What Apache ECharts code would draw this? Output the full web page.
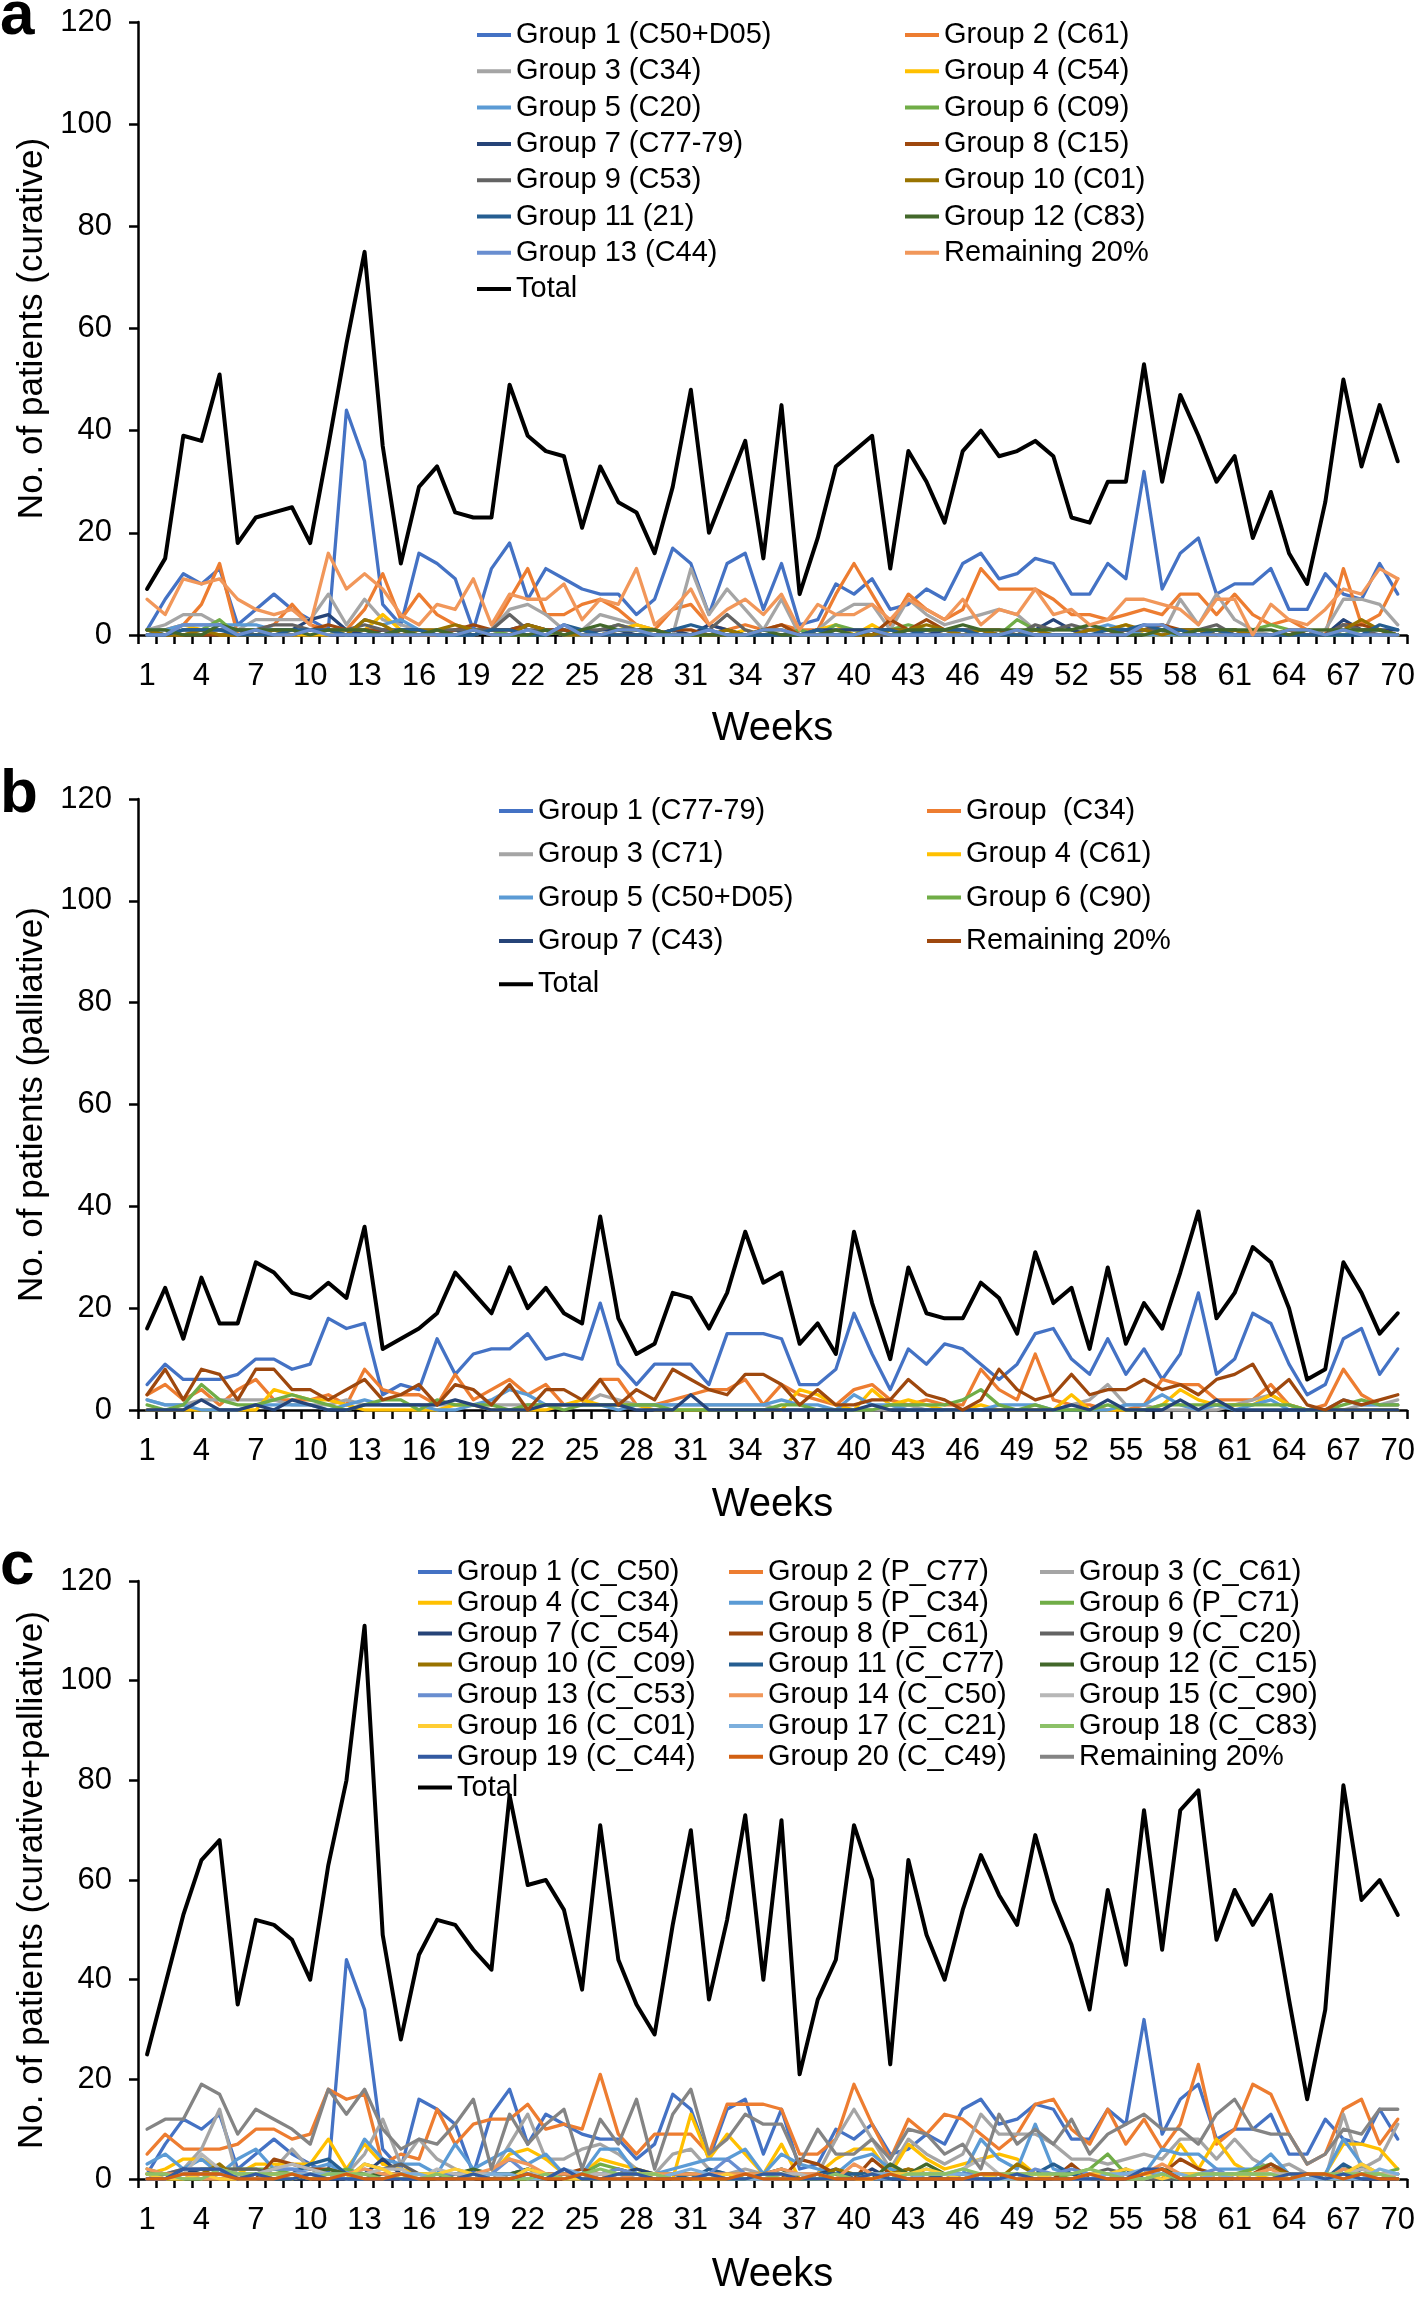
<!DOCTYPE html>
<html>
<head>
<meta charset="utf-8">
<script src="https://cdn.jsdelivr.net/npm/echarts@6/dist/echarts.min.js"></script>
<style>
  html, body { margin: 0; padding: 0; background: #fff; }
  .panel { position: absolute; left: 0; width: 1418px; }
</style>
</head>
<body>
<div id="pa" class="panel" style="top:0px;height:760px;"></div>
<div id="pb" class="panel" style="top:760px;height:770px;"></div>
<div id="pc" class="panel" style="top:1530px;height:770px;"></div>
<script>
// ---------- categories ----------
const weeks = ['1','2','3','4','5','6','7','8','9','10','11','12','13','14','15','16','17','18','19','20',
  '21','22','23','24','25','26','27','28','29','30','31','32','33','34','35','36','37','38','39','40',
  '41','42','43','44','45','46','47','48','49','50','51','52','53','54','55','56','57','58','59','60',
  '61','62','63','64','65','66','67','68','69','70'];
const yTicks = [0, 20, 40, 60, 80, 100, 120];

// ---------- panel a (curative) ----------
const aTotal = [9,15,39,38,51,18,23,24,25,18, 37,57,75,37,14,29,33,24,23,23, 49,39,36,35,21,33,26,24,16,29, 48,20,29,38,15,45,8,19,33,36, 39,13,36,30,22,36,40,35,36,38, 35,23,22,30,30,53,30,47,39,30, 35,19,28,16,10,26,50,33,45,34];
const aG1 = [1,7,12,10,13,2,5,8,5,3, 1,44,34,6,2,16,14,11,1,13, 18,7,13,11,9,8,8,4,7,17, 14,4,14,16,5,14,2,3,10,8, 11,5,6,9,7,14,16,11,12,15, 14,8,8,14,11,32,9,16,19,8, 10,10,13,5,5,12,8,7,14,8];
const aG2 = [1,1,2,6,14,0,1,2,6,2, 1,1,5,12,3,8,4,2,1,1, 7,13,4,4,6,7,5,2,1,5, 6,2,1,2,1,2,1,1,8,14, 8,2,8,5,3,5,13,9,9,9, 7,4,4,3,4,5,4,8,8,4, 8,4,2,3,1,0,13,2,4,11];
const aG3 = [1,2,4,4,2,1,3,3,3,3, 8,2,7,3,2,1,1,1,1,1, 5,6,4,1,1,4,3,2,1,0, 13,4,9,5,1,7,0,1,4,6, 6,1,7,4,2,3,4,5,4,1, 1,1,1,1,1,0,0,7,2,8, 3,1,0,1,0,1,7,7,6,2];
const aG4 = [0,0,2,1,0,0,0,0,0,0, 0,1,1,4,1,0,0,1,0,1, 0,0,1,0,0,0,1,2,1,0, 0,0,0,1,0,0,0,1,2,0, 2,0,1,1,0,0,0,0,1,0, 0,0,1,1,2,0,0,0,0,0, 0,0,0,1,0,0,1,0,0,0];
const aG5 = [1,1,2,2,2,2,2,1,1,1, 1,0,3,2,3,1,0,0,0,1, 0,0,1,0,0,0,0,0,0,0, 0,0,0,0,0,0,0,0,0,0, 0,0,0,0,0,0,0,0,0,0, 0,0,1,2,1,0,0,0,1,0, 0,0,0,0,0,0,0,0,0,0];
const aG6 = [1,0,0,1,3,0,1,0,0,1, 1,0,1,0,1,1,0,0,1,1, 0,0,0,1,0,1,2,1,0,0, 0,0,1,0,0,0,1,0,2,1, 1,1,2,1,1,0,1,0,3,1, 0,0,0,0,1,1,2,0,0,1, 0,1,2,1,0,0,0,1,1,0];
const aG7 = [1,0,1,1,1,1,0,1,1,3, 4,1,0,1,1,1,0,1,0,1, 1,2,1,1,0,1,1,0,0,1, 0,2,1,0,0,0,0,1,1,1, 1,1,1,0,1,1,1,0,0,1, 3,1,0,0,1,1,1,1,0,1, 1,0,0,0,1,0,3,1,1,1];
const aG8 = [0,0,0,0,0,0,0,0,0,1, 2,1,1,1,0,0,0,1,2,1, 1,2,1,1,0,0,0,0,0,1, 1,0,0,0,1,2,0,0,0,0, 0,3,1,3,1,0,1,1,0,0, 0,0,0,0,1,1,2,1,1,0, 1,0,0,1,0,0,2,2,1,0];
const aG9 = [0,0,1,1,1,1,1,2,2,1, 1,1,2,1,0,0,1,1,1,1, 4,1,1,0,1,1,2,1,1,0, 0,1,4,1,0,0,0,1,0,0, 0,0,1,1,1,1,1,0,0,2, 1,2,1,1,1,1,1,1,1,2, 0,0,0,0,0,0,2,1,0,0];
const aG10 = [1,0,0,1,0,0,0,1,0,1, 1,0,3,2,0,1,1,2,1,0, 0,2,1,0,0,0,1,1,1,0, 0,0,1,0,1,1,0,0,0,0, 0,1,1,2,1,0,1,0,0,1, 0,0,1,1,2,1,0,1,1,0, 1,0,0,1,1,0,1,3,1,0];
const aG11 = [0,0,1,1,1,0,0,0,1,1, 1,0,0,0,1,1,0,0,0,1, 1,0,0,2,1,0,0,0,0,1, 2,1,0,0,0,0,0,1,0,0, 1,1,0,1,1,1,0,0,0,0, 0,0,0,1,1,2,1,1,0,1, 0,0,0,0,0,0,0,0,2,1];
const aG12 = [1,1,0,0,2,1,1,1,1,0, 1,1,1,0,1,0,1,0,1,0, 0,0,1,0,1,2,1,1,1,0, 0,0,0,0,1,0,0,0,1,0, 1,0,1,1,1,2,1,1,1,1, 1,1,2,1,0,0,1,0,1,1, 1,1,1,0,1,1,1,1,1,0];
const aG13 = [0,0,2,2,2,0,1,0,0,1, 0,0,0,0,0,0,0,0,1,0, 0,1,0,2,0,0,1,1,0,0, 0,1,0,0,1,1,0,0,0,0, 1,0,0,0,0,0,0,0,1,0, 0,0,0,0,0,2,2,0,0,0, 0,0,0,1,1,0,1,0,0,0];
const aRem = [7,4,11,10,11,7,5,4,5,2, 16,9,12,9,4,2,6,5,11,2, 8,7,7,10,3,7,6,13,2,5, 9,2,5,7,4,8,1,6,4,4, 6,3,7,5,3,7,2,5,4,9, 4,5,2,3,7,7,6,5,2,7, 7,0,6,3,2,5,9,8,13,11];

// ---------- panel b (palliative) ----------
const bTotal = [16,24,14,26,17,17,29,27,23,22, 25,22,36,12,14,16,19,27,23,19, 28,20,24,19,17,38,18,11,13,23, 22,16,23,35,25,27,13,17,11,35, 21,10,28,19,18,18,25,22,15,31, 21,24,12,28,13,21,16,27,39,18, 23,32,29,20,6,8,29,23,15,19];
const bG1 = [5,9,6,6,6,7,10,10,8,9, 18,16,17,3,5,4,14,7,11,12, 12,15,10,11,10,21,9,5,9,9, 9,5,15,15,15,14,5,5,8,19, 11,4,12,9,13,12,9,6,9,15, 16,10,7,14,7,12,6,11,23,7, 10,19,17,9,3,5,14,16,7,12];
const bG2 = [3,5,2,4,1,4,6,2,2,2, 3,1,8,4,3,3,1,7,2,4, 6,3,5,1,1,6,6,1,1,2, 3,4,4,6,1,5,3,2,1,4, 5,2,1,2,1,1,8,4,2,11, 2,1,1,0,0,1,6,5,5,2, 2,2,5,1,0,1,8,3,1,1];
const bG3 = [2,1,1,2,2,2,2,2,1,1, 1,2,1,1,1,1,1,1,1,1, 1,1,1,1,1,3,2,1,1,1, 1,1,1,1,1,0,0,0,0,0, 0,0,1,0,0,0,0,0,0,0, 0,1,2,5,1,1,0,0,0,0, 1,2,3,1,0,0,0,1,1,2];
const bG4 = [0,0,0,0,0,0,0,4,3,2, 2,1,0,0,0,0,0,1,1,0, 0,0,0,1,2,1,1,1,0,0, 0,0,0,0,0,0,4,3,1,0, 4,1,2,1,0,0,1,0,0,0, 0,3,0,0,0,0,1,4,2,1, 1,1,3,1,0,0,0,0,0,0];
const bG5 = [2,1,1,0,0,0,1,1,1,1, 0,1,2,1,1,1,0,0,1,2, 4,3,1,1,1,1,0,1,1,1, 1,1,1,1,1,2,1,1,0,3, 1,1,0,0,0,0,0,1,1,1, 0,0,0,0,1,1,3,1,0,1, 0,1,2,0,0,0,2,1,1,1];
const bG6 = [1,0,1,5,2,1,1,2,3,2, 1,0,1,2,2,0,2,1,1,1, 0,1,1,0,1,1,1,1,1,0, 0,0,0,0,0,1,1,0,0,0, 0,1,1,1,1,2,4,1,0,1, 0,0,0,1,0,0,1,1,1,1, 1,1,1,1,0,0,1,2,1,1];
const bG7 = [0,0,0,2,0,0,1,0,2,1, 0,0,1,1,1,1,1,2,1,0, 0,0,1,1,1,1,1,0,0,0, 3,0,0,0,0,0,0,0,0,0, 1,0,0,0,0,0,0,0,0,0, 0,1,0,2,0,0,0,2,0,2, 0,0,0,0,0,0,0,0,0,0];
const bRem = [3,8,2,8,7,2,8,8,4,4, 2,4,6,2,3,5,1,5,4,1, 5,0,4,4,2,6,1,4,2,8, 6,4,3,7,7,5,1,4,1,1, 2,2,6,3,2,0,2,8,4,2, 3,7,3,4,4,6,4,5,3,6, 7,9,3,6,1,0,2,1,2,3];

// ---------- panel c (curative + palliative) ----------
const cTotal = [25,39,53,64,68,35,52,51,48,40, 63,80,111,49,28,45,52,51,46,42, 77,59,60,54,38,71,44,35,29,51, 70,36,52,73,40,72,21,36,44,71, 60,23,64,49,40,54,65,57,51,69, 56,47,34,58,43,74,46,74,78,48, 58,51,57,36,16,34,79,56,60,53];
const cG1 = aG1, cG2 = bG1, cG3 = aG2, cG4 = aG3, cG5 = bG2, cG6 = bG3, cG7 = aG4, cG8 = bG4,
      cG9 = aG5, cG10 = aG6, cG11 = aG7, cG12 = aG8, cG13 = aG9, cG14 = bG5, cG15 = bG6,
      cG16 = aG10, cG17 = aG11, cG18 = aG12, cG19 = aG13;
const cG20 = [0,0,1,1,1,0,0,0,1,0, 0,1,0,0,1,0,0,0,0,0, 0,1,0,0,1,0,0,0,0,0, 0,0,0,1,0,0,0,1,0,0, 0,1,0,0,0,0,1,1,0,0, 0,0,1,0,0,1,2,0,0,0, 0,0,0,0,1,1,0,1,0,0];
const cRem = [10,12,12,19,17,9,14,12,10,7, 18,13,18,10,6,8,7,11,16,2, 13,7,11,14,2,12,7,16,2,13, 18,5,8,13,11,11,3,10,5,5, 8,4,10,9,5,7,2,13,7,10, 7,12,5,9,11,13,10,10,7,13, 16,10,9,9,3,5,10,9,14,14];

const FONT = 'Liberation Sans, Arial, Helvetica, sans-serif';

function buildPanel(domId, cfg) {
  const chart = echarts.init(document.getElementById(domId), null, { renderer: 'canvas' });
  const series = cfg.series.map(s => ({
    name: s.name, type: 'line', data: s.data, symbol: 'none', smooth: false,
    color: s.color,
    lineStyle: { color: s.color, width: s.width || 3.3, join: 'round', cap: 'round' },
    emphasis: { disabled: true }, animation: false, silent: true
  }));
  const legends = cfg.legendCols.map(col => ({
    orient: 'vertical', left: col.left, top: cfg.legendTop, padding: 0,
    itemGap: cfg.legendGap, itemWidth: 34, itemHeight: 4, icon: 'rect',
    selectedMode: false,
    textStyle: { fontFamily: FONT, fontSize: 29, color: '#000', lineHeight: 30 },
    data: col.names
  }));
  chart.setOption({
    animation: false,
    backgroundColor: 'transparent',
    graphic: [{ type: 'text', left: 0, top: cfg.labelTop,
      style: { text: cfg.label, font: 'bold 62px ' + FONT, fill: '#000' } }],
    legend: legends,
    grid: { left: 138, right: 9, top: cfg.gridTop, height: cfg.gridHeight, containLabel: false },
    xAxis: {
      type: 'category', data: weeks, boundaryGap: true,
      name: 'Weeks', nameLocation: 'middle', nameGap: cfg.xNameGap,
      nameTextStyle: { fontFamily: FONT, fontSize: 40, color: '#000' },
      axisLine: { lineStyle: { color: '#000', width: 2.5 } },
      axisTick: { show: true, interval: 0, length: 9, inside: false, lineStyle: { color: '#000', width: 2.5 } },
      axisLabel: { interval: 2, margin: 26, fontFamily: FONT, fontSize: 31, color: '#000' },
      splitLine: { show: false }
    },
    yAxis: {
      type: 'value', min: yTicks[0], max: yTicks[yTicks.length - 1], interval: 20,
      name: cfg.yName, nameLocation: 'middle', nameGap: 84, nameRotate: 90,
      nameTextStyle: { fontFamily: FONT, fontSize: 35, color: '#000' },
      axisLine: { show: true, lineStyle: { color: '#000', width: 2.5 } },
      axisTick: { show: true, length: 9, lineStyle: { color: '#000', width: 2.5 } },
      axisLabel: { margin: 26, fontFamily: FONT, fontSize: 31, color: '#000' },
      splitLine: { show: false }
    },
    series: series
  });
}

// colors (Office palette)
const C = {
  g1: '#4472C4', g2: '#ED7D31', g3: '#A5A5A5', g4: '#FFC000', g5: '#5B9BD5', g6: '#70AD47',
  g7: '#264478', g8: '#9E480E', g9: '#636363', g10: '#997300', g11: '#255E91', g12: '#43682B',
  g13: '#698ED0', g14: '#F1975A', g15: '#B7B7B7', g16: '#FFCD33', g17: '#7CAFDD', g18: '#8CC168',
  g19: '#335AA1', g20: '#D26012', g21: '#848484', total: '#000000'
};

// ---------- panel a ----------
const aNames = ['Group 1 (C50+D05)','Group 2 (C61)','Group 3 (C34)','Group 4 (C54)','Group 5 (C20)',
  'Group 6 (C09)','Group 7 (C77-79)','Group 8 (C15)','Group 9 (C53)','Group 10 (C01)','Group 11 (21)',
  'Group 12 (C83)','Group 13 (C44)','Remaining 20%','Total'];
buildPanel('pa', {
  label: 'a', labelTop: -14, gridTop: 22, gridHeight: 613, xNameGap: 74,
  yName: 'No. of patients (curative)',
  legendTop: 20, legendGap: 6.3,
  legendCols: [
    { left: 477, names: [aNames[0], aNames[2], aNames[4], aNames[6], aNames[8], aNames[10], aNames[12], aNames[14]] },
    { left: 905, names: [aNames[1], aNames[3], aNames[5], aNames[7], aNames[9], aNames[11], aNames[13]] }
  ],
  series: [
    { name: aNames[0], data: aG1, color: C.g1 },
    { name: aNames[1], data: aG2, color: C.g2 },
    { name: aNames[2], data: aG3, color: C.g3 },
    { name: aNames[3], data: aG4, color: C.g4 },
    { name: aNames[4], data: aG5, color: C.g5 },
    { name: aNames[5], data: aG6, color: C.g6 },
    { name: aNames[6], data: aG7, color: C.g7 },
    { name: aNames[7], data: aG8, color: C.g8 },
    { name: aNames[8], data: aG9, color: C.g9 },
    { name: aNames[9], data: aG10, color: C.g10 },
    { name: aNames[10], data: aG11, color: C.g11 },
    { name: aNames[11], data: aG12, color: C.g12 },
    { name: aNames[12], data: aG13, color: C.g13 },
    { name: aNames[13], data: aRem, color: C.g14 },
    { name: aNames[14], data: aTotal, color: C.total, width: 4 }
  ]
});

// ---------- panel b ----------
const bNames = ['Group 1 (C77-79)','Group  (C34)','Group 3 (C71)','Group 4 (C61)','Group 5 (C50+D05)',
  'Group 6 (C90)','Group 7 (C43)','Remaining 20%','Total'];
buildPanel('pb', {
  label: 'b', labelTop: 4, gridTop: 39, gridHeight: 613, xNameGap: 75,
  yName: 'No. of patients (palliative)',
  legendTop: 36, legendGap: 13.3,
  legendCols: [
    { left: 499, names: [bNames[0], bNames[2], bNames[4], bNames[6], bNames[8]] },
    { left: 927, names: [bNames[1], bNames[3], bNames[5], bNames[7]] }
  ],
  series: [
    { name: bNames[0], data: bG1, color: C.g1 },
    { name: bNames[1], data: bG2, color: C.g2 },
    { name: bNames[2], data: bG3, color: C.g3 },
    { name: bNames[3], data: bG4, color: C.g4 },
    { name: bNames[4], data: bG5, color: C.g5 },
    { name: bNames[5], data: bG6, color: C.g6 },
    { name: bNames[6], data: bG7, color: C.g7 },
    { name: bNames[7], data: bRem, color: C.g8 },
    { name: bNames[8], data: bTotal, color: C.total, width: 4 }
  ]
});

// ---------- panel c ----------
const cNames = ['Group 1 (C_C50)','Group 2 (P_C77)','Group 3 (C_C61)','Group 4 (C_C34)','Group 5 (P_C34)',
  'Group 6 (P_C71)','Group 7 (C_C54)','Group 8 (P_C61)','Group 9 (C_C20)','Group 10 (C_C09)',
  'Group 11 (C_C77)','Group 12 (C_C15)','Group 13 (C_C53)','Group 14 (C_C50)','Group 15 (C_C90)',
  'Group 16 (C_C01)','Group 17 (C_C21)','Group 18 (C_C83)','Group 19 (C_C44)','Group 20 (C_C49)',
  'Remaining 20%','Total'];
const cData = [cG1,cG2,cG3,cG4,cG5,cG6,cG7,cG8,cG9,cG10,cG11,cG12,cG13,cG14,cG15,cG16,cG17,cG18,cG19,cG20,cRem,cTotal];
const cColors = [C.g1,C.g2,C.g3,C.g4,C.g5,C.g6,C.g7,C.g8,C.g9,C.g10,C.g11,C.g12,C.g13,C.g14,C.g15,C.g16,C.g17,C.g18,C.g19,C.g20,C.g21,C.total];
buildPanel('pc', {
  label: 'c', labelTop: 6, gridTop: 51, gridHeight: 614, xNameGap: 76,
  yName: 'No. of patients (curative+palliative)',
  legendTop: 27, legendGap: 0.8,
  legendCols: [
    { left: 418, names: [cNames[0], cNames[3], cNames[6], cNames[9], cNames[12], cNames[15], cNames[18], cNames[21]] },
    { left: 729, names: [cNames[1], cNames[4], cNames[7], cNames[10], cNames[13], cNames[16], cNames[19]] },
    { left: 1040, names: [cNames[2], cNames[5], cNames[8], cNames[11], cNames[14], cNames[17], cNames[20]] }
  ],
  series: cNames.map((n, i) => ({ name: n, data: cData[i], color: cColors[i], width: i === 21 ? 4 : 3.3 }))
});
</script>
</body>
</html>
